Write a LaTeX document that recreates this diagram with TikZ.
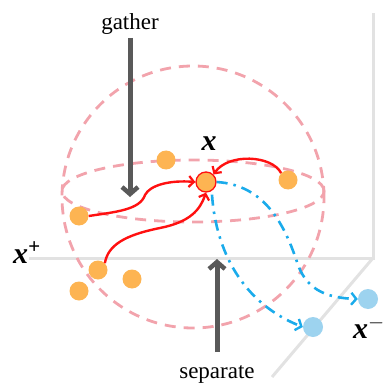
\documentclass[tikz,border=0pt]{standalone}
\usepackage{fontspec}
\setmainfont{Liberation Serif}
\usetikzlibrary{arrows.meta}
\definecolor{dotor}{HTML}{FDB452}
\definecolor{dotbl}{HTML}{9DD3EF}
\definecolor{pinkd}{HTML}{F2A3AC}
\definecolor{axg}{HTML}{E2E2E2}
\definecolor{arrg}{HTML}{595959}
\definecolor{redc}{HTML}{FF1010}
\definecolor{bluec}{HTML}{1AABEB}
\tikzset{
  odot/.style={circle,fill=dotor,inner sep=0pt,minimum size=19pt},
  bdot/.style={circle,fill=dotbl,inner sep=0pt,minimum size=20pt},
  cdot/.style={circle,fill=dotor,draw=redc,line width=1.3pt,inner sep=0pt,minimum size=20pt},
  sph/.style={pinkd,line width=2.8pt,dash pattern=on 11pt off 8pt},
  axis/.style={axg,line width=3pt},
  bigarr/.style={arrg,line width=5pt,-{Straight Barb[length=7pt,width=16pt,line width=4.5pt]}},
  redarr/.style={redc,line width=2.4pt,-{Straight Barb[length=5pt,width=11pt,line width=2.2pt]}},
  bluearr/.style={bluec,line width=2.6pt,dash pattern=on 11pt off 6pt on 2.5pt off 6pt,-{Straight Barb[length=5pt,width=12pt,line width=2.4pt]}},
  lbl/.style={font=\fontsize{23}{27}\selectfont,inner sep=0pt},
  vlbl/.style={font=\fontsize{30}{33}\selectfont\bfseries\itshape,inner sep=0pt},
}
\begin{document}
\begin{tikzpicture}[x=1pt,y=-1pt]
\useasboundingbox (0,0) rectangle (385,387);
% axes
\coordinate (o) at (373,258);
\coordinate (ax1) at (29,258);
\coordinate (ax2) at (373,13);
\coordinate (ax3) at (272,377);
\draw[axis] (ax1) -- (o) -- (ax2);
\draw[axis] (o) -- (ax3);
% sphere
\draw[sph] (193,197) circle[radius=131pt];
\draw[sph] (193,191) ellipse[x radius=131pt,y radius=31pt];
% labels
\node[lbl] (gather) at (130,24) {gather};
\node[lbl] (separate) at (217,374) {separate};
\node[vlbl] (xl) at (209,144) {x};
\node[vlbl,anchor=base west] (xp) at (13,263) {x\textsuperscript{+}};
\node[vlbl,anchor=base west] (xm) at (353,338) {x\textsuperscript{$-$}};
% dots
\node[odot] (d1) at (166,160) {};
\node[odot] (d2) at (288,180) {};
\node[odot] (d3) at (79,216) {};
\node[odot] (d4) at (98,270) {};
\node[odot] (d5) at (132,279) {};
\node[odot] (d6) at (79,291) {};
\node[bdot] (b1) at (368,299) {};
\node[bdot] (b2) at (313,327) {};
\node[cdot] (c) at (206,182) {};
% gray arrows
\coordinate (gs) at (130,38);
\coordinate (ge) at (130,197);
\coordinate (ss) at (217,352);
\coordinate (se) at (217,259);
\draw[bigarr] (gs) -- (ge);
\draw[bigarr] (ss) -- (se);
% red curves
\draw[redarr] (d3.east) .. controls (115,212) and (140,210) .. (145,195)
   .. controls (150,185) and (170,180) .. (c.west);
\draw[redarr] (d4.north east) .. controls (108,245) and (125,235) .. (160,228)
   .. controls (190,222) and (200,210) .. (c.south);
\draw[redarr] (d2.north west) .. controls (272,155) and (228,153) .. (c.north east);
% blue curves
\draw[bluearr] (c.east) .. controls (265,185) and (285,225) .. (298,265)
   .. controls (308,292) and (330,298) .. (b1.west);
\draw[bluearr] (c.south) ++(6,2) .. controls (215,240) and (235,300) .. (b2.west);
\end{tikzpicture}
\end{document}
